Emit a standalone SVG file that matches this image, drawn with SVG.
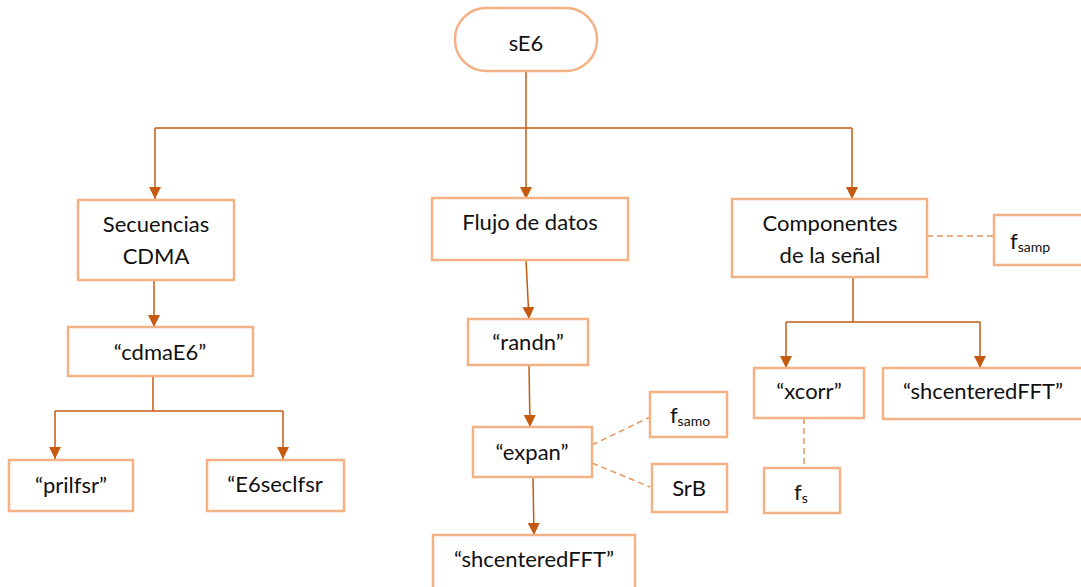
<svg xmlns="http://www.w3.org/2000/svg" width="1081" height="587" viewBox="0 0 1081 587">
  <style>
    .box { fill: #ffffff; stroke: #F4B183; stroke-width: 2.5; }
    .link { fill: none; stroke: #C55A11; stroke-width: 1.5; }
    .dash { fill: none; stroke: #E8955A; stroke-width: 1.5; stroke-dasharray: 6 4; }
    .lbl { font-family: Lato, "Open Sans", "Liberation Sans", sans-serif; font-size: 22px; fill: #111111; text-anchor: middle; }
    .sub { font-size: 14px; }
  </style>
  <defs>
    <marker id="arrow" viewBox="0 0 12 12" refX="12" refY="6" markerWidth="12" markerHeight="12" markerUnits="userSpaceOnUse" orient="auto">
      <path d="M0,0 L12,6 L0,12 Z" fill="#C55A11"/>
    </marker>
  </defs>

  <rect width="1081" height="587" fill="#ffffff"/>

  <!-- connectors -->
  <g id="connectors">
    <!-- root fan-out -->
    <path class="link" d="M526,71 V128"/>
    <path class="link" d="M155,128 H852"/>
    <path class="link" d="M155,128 V199" marker-end="url(#arrow)"/>
    <path class="link" d="M526,128 V199" marker-end="url(#arrow)"/>
    <path class="link" d="M852,128 V199" marker-end="url(#arrow)"/>

    <!-- CDMA branch -->
    <path class="link" d="M154,280 V327" marker-end="url(#arrow)"/>
    <path class="link" d="M153,376 V411"/>
    <path class="link" d="M55,411 H283"/>
    <path class="link" d="M55,411 V459" marker-end="url(#arrow)"/>
    <path class="link" d="M283,411 V459" marker-end="url(#arrow)"/>

    <!-- data flow branch -->
    <path class="link" d="M526,260 L529,319" marker-end="url(#arrow)"/>
    <path class="link" d="M529,365 L530,427" marker-end="url(#arrow)"/>
    <path class="link" d="M533,477 L534,535" marker-end="url(#arrow)"/>
    <path class="dash" d="M592,445 L650,417"/>
    <path class="dash" d="M592,463 L650,487"/>

    <!-- signal components branch -->
    <path class="dash" d="M927,236 H994"/>
    <path class="link" d="M853,277 V322"/>
    <path class="link" d="M786,322 H980"/>
    <path class="link" d="M786,322 V368" marker-end="url(#arrow)"/>
    <path class="link" d="M980,322 V368" marker-end="url(#arrow)"/>
    <path class="dash" d="M804,418 V467"/>
  </g>

  <!-- root -->
  <g id="node-sE6">
    <rect class="box" x="455" y="8" width="142" height="63" rx="31" ry="31"/>
    <text class="lbl" x="526" y="51">sE6</text>
  </g>

  <!-- level 1 -->
  <g id="node-secuencias">
    <rect class="box" x="78" y="200" width="156" height="80"/>
    <text class="lbl" x="156" y="232">Secuencias</text>
    <text class="lbl" x="156" y="264">CDMA</text>
  </g>
  <g id="node-flujo">
    <rect class="box" x="432" y="198" width="196" height="62"/>
    <text class="lbl" x="530" y="230">Flujo de datos</text>
  </g>
  <g id="node-componentes">
    <rect class="box" x="732" y="199" width="195" height="78"/>
    <text class="lbl" x="830" y="231">Componentes</text>
    <text class="lbl" x="830" y="263">de la señal</text>
  </g>
  <g id="node-fsamp-top">
    <rect class="box" x="994" y="215" width="90" height="50"/>
    <text class="lbl" x="1030" y="249">f<tspan class="sub" dy="3">samp</tspan></text>
  </g>

  <!-- CDMA children -->
  <g id="node-cdmaE6">
    <rect class="box" x="68" y="327" width="185" height="49"/>
    <text class="lbl" x="160" y="360">“cdmaE6”</text>
  </g>
  <g id="node-prilfsr">
    <rect class="box" x="9" y="460" width="124" height="51"/>
    <text class="lbl" x="71" y="493">“prilfsr”</text>
  </g>
  <g id="node-E6seclfsr">
    <rect class="box" x="207" y="460" width="137" height="51"/>
    <text class="lbl" x="275" y="492">“E6seclfsr</text>
  </g>

  <!-- data flow children -->
  <g id="node-randn">
    <rect class="box" x="468" y="319" width="120" height="46"/>
    <text class="lbl" x="528" y="350">“randn”</text>
  </g>
  <g id="node-expan">
    <rect class="box" x="473" y="427" width="119" height="50"/>
    <text class="lbl" x="532" y="460">“expan”</text>
  </g>
  <g id="node-fsamo">
    <rect class="box" x="650" y="392" width="77" height="45"/>
    <text class="lbl" x="690" y="423">f<tspan class="sub" dy="3">samo</tspan></text>
  </g>
  <g id="node-SrB">
    <rect class="box" x="652" y="464" width="75" height="48"/>
    <text class="lbl" x="689" y="496">SrB</text>
  </g>
  <g id="node-shcenteredFFT-1">
    <rect class="box" x="433" y="535" width="202" height="55"/>
    <text class="lbl" x="534" y="567">“shcenteredFFT”</text>
  </g>

  <!-- signal components children -->
  <g id="node-xcorr">
    <rect class="box" x="754" y="368" width="110" height="50"/>
    <text class="lbl" x="809" y="399">“xcorr”</text>
  </g>
  <g id="node-shcenteredFFT-2">
    <rect class="box" x="883" y="368" width="203" height="51"/>
    <text class="lbl" x="983" y="399">“shcenteredFFT”</text>
  </g>
  <g id="node-fs">
    <rect class="box" x="764" y="468" width="76" height="45"/>
    <text class="lbl" x="801" y="500">f<tspan class="sub" dy="3">s</tspan></text>
  </g>
</svg>
